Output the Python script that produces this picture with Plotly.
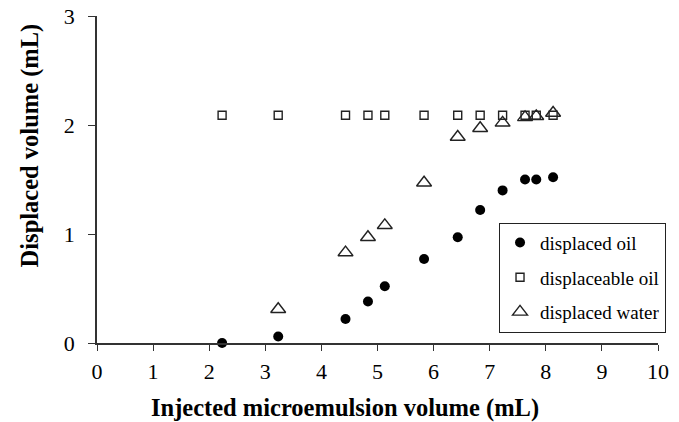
import plotly.graph_objects as go

injected = [2.23, 3.23, 4.43, 4.83, 5.13, 5.83, 6.43, 6.83, 7.23, 7.63, 7.83, 8.13]
displaced_oil = [0.00, 0.06, 0.22, 0.38, 0.52, 0.77, 0.97, 1.22, 1.40, 1.50, 1.50, 1.52]
displaceable_oil = [2.09, 2.09, 2.09, 2.09, 2.09, 2.09, 2.09, 2.09, 2.09, 2.09, 2.09, 2.09]
displaced_water = [-0.01, 0.31, 0.83, 0.97, 1.08, 1.47, 1.89, 1.97, 2.02, 2.07, 2.08, 2.11]

series_names = ["displaced oil", "displaceable oil", "displaced water"]
x_ticks = list(range(0, 11))
y_ticks = [0, 1, 2, 3]

FONT = "Liberation Serif, Times New Roman, serif"

fig = go.Figure()
fig.add_trace(go.Scatter(
    x=injected, y=displaced_oil, mode="markers", name=series_names[0], legendgroup="a",
    marker=dict(symbol="circle", size=10, color="black"), cliponaxis=False))
fig.add_trace(go.Scatter(
    x=injected, y=displaceable_oil, mode="markers", name=series_names[1], legendgroup="b",
    marker=dict(symbol="square-open", size=8, color="#222", line=dict(width=1.4)),
    cliponaxis=False))
fig.add_trace(go.Scatter(
    x=injected, y=displaced_water, mode="markers", name=series_names[2], legendgroup="c",
    marker=dict(symbol="triangle-up-open", size=13, color="#222", line=dict(width=1.4)),
    cliponaxis=False))

fig.update_layout(
    width=679, height=422,
    margin=dict(l=96.5, r=21, t=15.7, b=78.7, autoexpand=False),
    paper_bgcolor="white", plot_bgcolor="white",
    font=dict(family=FONT, size=22, color="black"),
    showlegend=True,
    legend=dict(
        x=1.0143, xanchor="right", y=0.368, yanchor="top",
        bordercolor="#222", borderwidth=1, bgcolor="white",
        font=dict(family=FONT, size=19, color="black"),
        itemwidth=30, tracegroupgap=7,
    ),
)
fig.update_xaxes(
    range=[0, 10], tickvals=x_ticks, ticktext=[str(v) for v in x_ticks],
    showgrid=False, zeroline=False, showline=True, linecolor="#333", linewidth=1.5,
    ticks="outside", ticklen=6, tickwidth=1.2, tickcolor="#333",
    ticklabelstandoff=2,
    tickfont=dict(family=FONT, size=22, color="black"),
)
fig.update_yaxes(
    range=[0, 3], tickvals=y_ticks, ticktext=[str(v) for v in y_ticks],
    showgrid=False, zeroline=False, showline=True, linecolor="#333", linewidth=1.5,
    ticks="outside", ticklen=7, tickwidth=1.2, tickcolor="#333",
    ticklabelstandoff=9, ticklabeloverflow="allow",
    tickfont=dict(family=FONT, size=22, color="black"),
)
fig.add_annotation(
    text="<b>Injected microemulsion volume (mL)</b>", xref="paper", yref="paper",
    x=0.4417, y=-0.2, xanchor="center", yanchor="middle", showarrow=False,
    font=dict(family=FONT, size=24.5, color="black"))
fig.add_annotation(
    text="<b>Displaced volume (mL)</b>", xref="paper", yref="paper",
    x=-0.1202, y=0.603, xanchor="center", yanchor="middle", showarrow=False,
    textangle=-90, font=dict(family=FONT, size=24.5, color="black"))

fig.write_html(
    "out.html",
    config={"displayModeBar": False},
    post_script="document.body.style.margin='0';document.body.style.overflow='hidden';",
)
